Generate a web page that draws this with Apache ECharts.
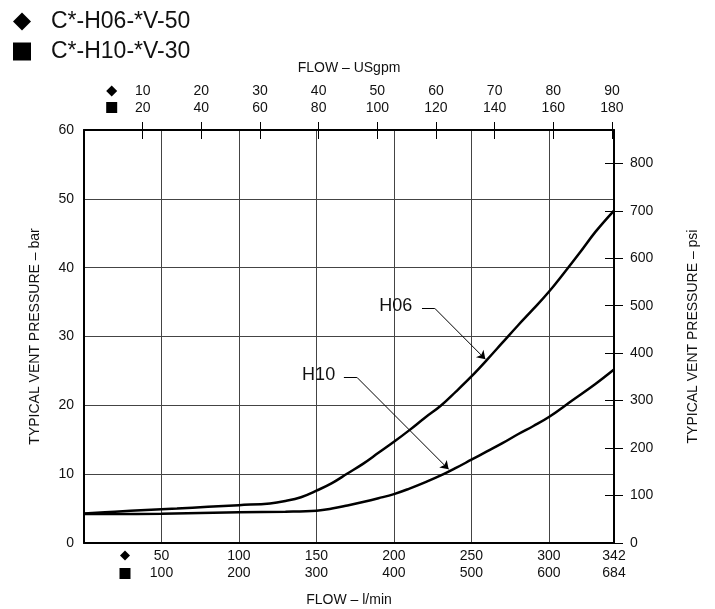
<!DOCTYPE html>
<html>
<head>
<meta charset="utf-8">
<script src="https://cdn.jsdelivr.net/npm/echarts@6/dist/echarts.min.js"></script>
<style>
  html, body { margin: 0; padding: 0; background: #fff; }
  #echarts { width: 715px; height: 609px; }
</style>
</head>
<body>
<div id="echarts"></div>
<script>
// flow in l/min (bottom axis), pressure in bar (left axis)
var h06Flow = [0, 20, 40, 60, 80, 100, 120, 130, 140, 150, 160, 170, 180, 190, 200, 210, 220, 230, 240, 250, 260, 270, 280, 290, 300, 310, 320, 330, 342];
var h06Bar  = [4.3, 4.55, 4.8, 5.0, 5.25, 5.5, 5.75, 6.1, 6.65, 7.6, 8.7, 10.1, 11.5, 13.1, 14.7, 16.4, 18.2, 19.9, 22.0, 24.2, 26.6, 29.1, 31.6, 34.0, 36.5, 39.3, 42.2, 45.2, 48.3];
var h10Flow = [0, 50, 100, 130, 150, 160, 170, 180, 190, 200, 210, 220, 232, 240, 250, 260, 270, 280, 290, 300, 315, 330, 342];
var h10Bar  = [4.2, 4.25, 4.45, 4.55, 4.7, 5.0, 5.45, 5.95, 6.5, 7.1, 7.9, 8.8, 10.0, 10.9, 12.1, 13.3, 14.5, 15.8, 17.0, 18.3, 20.7, 23.1, 25.2];

// tick labels
var lpmTicksH06 = [50, 100, 150, 200, 250, 300, 342];
var lpmTicksH10 = [100, 200, 300, 400, 500, 600, 684];
var gpmTicksH06 = [10, 20, 30, 40, 50, 60, 70, 80, 90];
var gpmTicksH10 = [20, 40, 60, 80, 100, 120, 140, 160, 180];
var psiTicks = [0, 100, 200, 300, 400, 500, 600, 700, 800];

var LPM_MAX = 342;
var BAR_MAX = 60;
var LPM_PER_GPM = 3.78541;
var PSI_PER_BAR = 14.5038;

var FONT = 'Liberation Sans, Arial, sans-serif';

window.onload = function () {
    var option = {
        animation: false,
        backgroundColor: '#fff',
        textStyle: { fontFamily: FONT, color: '#000' },
        legend: {
            left: 13, top: 10,
            padding: 0,
            orient: 'vertical',
            itemWidth: 18, itemHeight: 18,
            itemGap: 7,
            selectedMode: false,
            textStyle: { fontSize: 23, color: '#111', padding: [0, 0, 0, 15], fontFamily: FONT },
            data: [
                { name: 'C*-H06-*V-50', icon: 'diamond', itemStyle: { color: '#000' } },
                { name: 'C*-H10-*V-30', icon: 'rect', itemStyle: { color: '#000' } }
            ]
        },
        grid: { left: 84, top: 130, right: 101, bottom: 66, containLabel: false, outerBoundsMode: 'none' },
        xAxis: [{
            // bottom: l/min
            type: 'value', position: 'bottom',
            min: 0, max: LPM_MAX, interval: 50,
            name: 'FLOW – l/min', nameLocation: 'middle', nameGap: 50,
            nameTextStyle: { fontSize: 14, color: '#111', fontFamily: FONT },
            axisLine: { onZero: false, lineStyle: { color: '#000', width: 2 } },
            axisTick: { show: false },
            axisLabel: {
                customValues: lpmTicksH06,
                margin: 5, fontSize: 14, lineHeight: 17, color: '#111', fontFamily: FONT,
                formatter: function (v) {
                    var i = lpmTicksH06.indexOf(v);
                    return i < 0 ? '' : lpmTicksH06[i] + '\n' + lpmTicksH10[i];
                }
            },
            splitLine: { show: true, lineStyle: { color: '#444', width: 1 } }
        }, {
            // top: USgpm
            type: 'value', position: 'top',
            min: 0, max: LPM_MAX / LPM_PER_GPM,
            name: 'FLOW – USgpm', nameLocation: 'middle', nameGap: 55,
            nameTextStyle: { fontSize: 14, color: '#111', fontFamily: FONT },
            axisLine: { onZero: false, lineStyle: { color: '#000', width: 2 } },
            axisTick: { show: true, length: 8, customValues: gpmTicksH06, lineStyle: { color: '#000', width: 1 } },
            axisLabel: {
                customValues: gpmTicksH06,
                margin: 13, fontSize: 14, lineHeight: 17, color: '#111', fontFamily: FONT,
                formatter: function (v) {
                    var i = gpmTicksH06.indexOf(v);
                    return i < 0 ? '' : gpmTicksH06[i] + '\n' + gpmTicksH10[i];
                }
            },
            splitLine: { show: false }
        }, {
            // inner half of the top ticks
            type: 'value', position: 'top',
            min: 0, max: LPM_MAX / LPM_PER_GPM,
            axisLine: { show: false, onZero: false },
            axisTick: { show: true, inside: true, length: 9, customValues: gpmTicksH06, lineStyle: { color: '#000', width: 1 } },
            axisLabel: { show: false },
            splitLine: { show: false }
        }],
        yAxis: [{
            type: 'value', position: 'left',
            min: 0, max: BAR_MAX, interval: 10,
            name: 'TYPICAL VENT PRESSURE – bar', nameLocation: 'middle', nameGap: 42, nameRotate: 90,
            nameTextStyle: { fontSize: 14, color: '#111', fontFamily: FONT },
            axisLine: { show: true, onZero: false, lineStyle: { color: '#000', width: 2 } },
            axisTick: { show: false },
            axisLabel: { margin: 10, fontSize: 14, color: '#111', fontFamily: FONT },
            splitLine: { show: true, lineStyle: { color: '#444', width: 1 } }
        }, {
            type: 'value', position: 'right',
            min: 0, max: BAR_MAX * PSI_PER_BAR,
            name: 'TYPICAL VENT PRESSURE – psi', nameLocation: 'middle', nameGap: 72, nameRotate: 90,
            nameTextStyle: { fontSize: 14, color: '#111', fontFamily: FONT },
            axisLine: { show: true, onZero: false, lineStyle: { color: '#000', width: 2 } },
            axisTick: { show: true, length: 9, customValues: psiTicks, lineStyle: { color: '#000', width: 1 } },
            axisLabel: { customValues: psiTicks, margin: 16, fontSize: 14, color: '#111', fontFamily: FONT },
            splitLine: { show: false }
        }, {
            // inner half of the psi ticks
            type: 'value', position: 'right',
            min: 0, max: BAR_MAX * PSI_PER_BAR,
            axisLine: { show: false, onZero: false },
            axisTick: { show: true, inside: true, length: 9, customValues: psiTicks, lineStyle: { color: '#000', width: 1 } },
            axisLabel: { show: false },
            splitLine: { show: false }
        }],
        series: [{
            name: 'C*-H06-*V-50',
            type: 'line',
            xAxisIndex: 0, yAxisIndex: 0,
            data: h06Flow.map(function (f, i) { return [f, h06Bar[i]]; }),
            smooth: 0.4,
            showSymbol: false,
            itemStyle: { color: '#000' },
            lineStyle: { color: '#000', width: 2.5 },
            silent: true,
            markLine: {
                silent: true, animation: false,
                symbol: ['none', 'arrow'], symbolSize: 8,
                label: { show: false },
                lineStyle: { color: '#000', width: 1, type: 'solid' },
                data: [
                    [{ coord: [218.1, 34.1], symbol: 'none' }, { coord: [226.3, 34.1], symbol: 'none' }],
                    [{ coord: [226.3, 34.1], symbol: 'none' }, { coord: [259.0, 26.7] }],
                    [{ coord: [167.7, 24.07], symbol: 'none' }, { coord: [176.1, 24.07], symbol: 'none' }],
                    [{ coord: [176.1, 24.07], symbol: 'none' }, { coord: [235.3, 10.7] }]
                ]
            },
            markPoint: {
                silent: true, animation: false,
                symbol: 'circle', symbolSize: 1,
                itemStyle: { color: 'rgba(0,0,0,0)' },
                label: { show: true, position: 'inside', formatter: '{b}', fontSize: 18, color: '#111', fontFamily: FONT },
                data: [
                    { name: 'H06', coord: [201.1, 34.36] },
                    { name: 'H10', coord: [151.4, 24.4] }
                ]
            }
        }, {
            name: 'C*-H10-*V-30',
            type: 'line',
            xAxisIndex: 0, yAxisIndex: 0,
            data: h10Flow.map(function (f, i) { return [f, h10Bar[i]]; }),
            smooth: 0.4,
            showSymbol: false,
            itemStyle: { color: '#000' },
            lineStyle: { color: '#000', width: 2.5 },
            silent: true
        }],
        graphic: [
            // scale markers next to the tick label rows
            { type: 'polygon', shape: { points: [[111.7, 85.5], [117.2, 91], [111.7, 96.5], [106.2, 91]] }, style: { fill: '#000' } },
            { type: 'rect', shape: { x: 106.2, y: 102, width: 11, height: 11 }, style: { fill: '#000' } },
            { type: 'polygon', shape: { points: [[125, 550.5], [130, 555.5], [125, 560.5], [120, 555.5]] }, style: { fill: '#000' } },
            { type: 'rect', shape: { x: 119.5, y: 568, width: 11, height: 11 }, style: { fill: '#000' } }
        ]
    };

    var mychart = echarts.init(document.getElementById('echarts'));
    mychart.setOption(option);
};
</script>
</body>
</html>
